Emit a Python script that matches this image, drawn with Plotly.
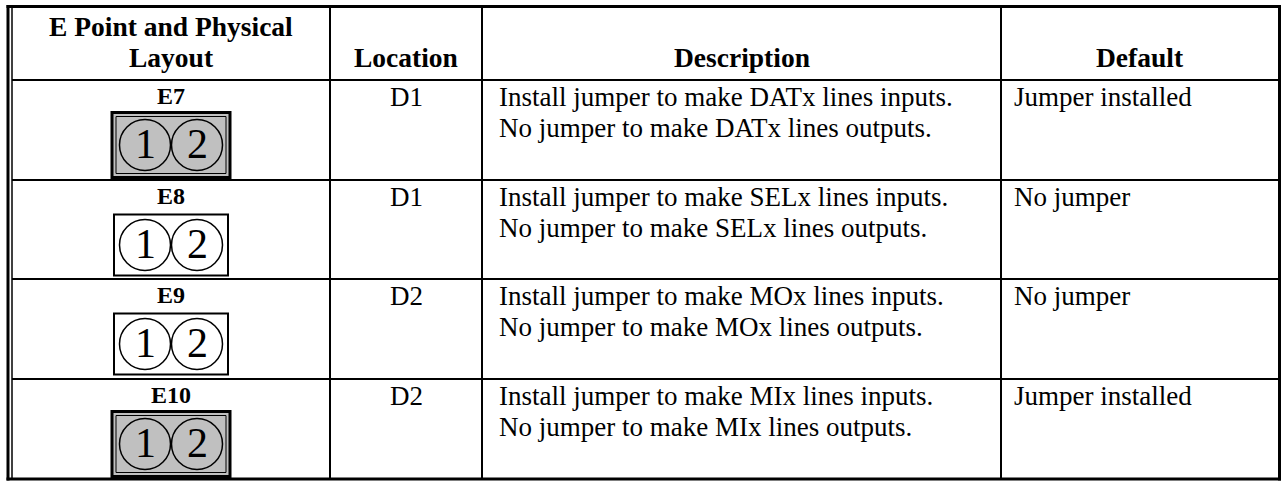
import plotly.graph_objects as go

# ---------------- data ----------------
header_col1 = ["E Point and Physical", "Layout"]
headers = ["Location", "Description", "Default"]
e_points = ["E7", "E8", "E9", "E10"]
locations = ["D1", "D1", "D2", "D2"]
desc_line1 = [
    "Install jumper to make DATx lines inputs.",
    "Install jumper to make SELx lines inputs.",
    "Install jumper to make MOx lines inputs.",
    "Install jumper to make MIx lines inputs.",
]
desc_line2 = [
    "No jumper to make DATx lines outputs.",
    "No jumper to make SELx lines outputs.",
    "No jumper to make MOx lines outputs.",
    "No jumper to make MIx lines outputs.",
]
defaults = ["Jumper installed", "No jumper", "No jumper", "Jumper installed"]
installed = [True, False, False, True]
pins = ["1", "2"]

# ---------------- layout constants ----------------
W, H = 1281, 481
FONT = "Liberation Serif, Times New Roman, serif"
BODY = 27
HEAD = 27.5
ELAB = 24
LEFT_OUT, LEFT_IN = 8, 12
RIGHT = 1279.5
TOP = 6.5
BOTTOM = 479
col_lines = [330, 482, 1001]
row_tops = [80, 180, 279, 379]

col1_c = (LEFT_IN + col_lines[0]) / 2
col2_c = (col_lines[0] + col_lines[1]) / 2
col3_c = (col_lines[1] + col_lines[2]) / 2
col4_c = (col_lines[2] + RIGHT) / 2

shapes = []
annotations = []


def line(x0, y0, x1, y1, w):
    shapes.append(dict(type="line", xref="x", yref="y", x0=x0, y0=y0, x1=x1, y1=y1,
                       line=dict(color="black", width=w), layer="above"))


def text(x, y, s, size=BODY, anchor="center", bold=False):
    if bold:
        s = "<b>" + s + "</b>"
    annotations.append(dict(x=x, y=y, xref="x", yref="y", text=s, showarrow=False,
                            xanchor=anchor, yanchor="middle",
                            font=dict(family=FONT, size=size, color="black")))


# outer border
line(LEFT_OUT - 1.5, TOP, RIGHT + 1.5, TOP, 3)
line(LEFT_OUT, TOP - 1.5, LEFT_OUT, BOTTOM + 1.5, 3)
line(LEFT_IN, TOP, LEFT_IN, BOTTOM, 1.5)
line(RIGHT, TOP - 1.5, RIGHT, BOTTOM + 1.5, 3)
line(LEFT_OUT - 1.5, BOTTOM, RIGHT + 1.5, BOTTOM, 3)

# inner grid
for cx in col_lines:
    line(cx, TOP, cx, BOTTOM, 2)
for ry in row_tops:
    line(LEFT_IN, ry, RIGHT, ry, 2)

# header
text(col1_c, 26, header_col1[0], HEAD, bold=True)
text(col1_c, 57, header_col1[1], HEAD, bold=True)
for cx, h in zip([col2_c, col3_c, col4_c], headers):
    text(cx, 57, h, HEAD, bold=True)

# rows
box_w, box_h = 121, 68
for i, t in enumerate(row_tops):
    text(col1_c, t + 16, e_points[i], ELAB, bold=True)
    text(col2_c, t + 17, locations[i])
    text(col_lines[1] + 15, t + 17, desc_line1[i], anchor="left")
    text(col_lines[1] + 15, t + 48, desc_line2[i], anchor="left")
    text(col_lines[2] + 11, t + 17, defaults[i], anchor="left")

    bx0 = col1_c - box_w / 2
    bx1 = col1_c + box_w / 2
    by0 = t + 31
    by1 = by0 + box_h
    if installed[i]:
        shapes.append(dict(type="rect", xref="x", yref="y", x0=bx0 + 1.5, y0=by0 + 1.5,
                           x1=bx1 - 1.5, y1=by1 - 1.5, fillcolor="#c0c0c0",
                           line=dict(color="black", width=3), layer="above"))
        shapes.append(dict(type="rect", xref="x", yref="y", x0=bx0 + 5.5, y0=by0 + 5.5,
                           x1=bx1 - 5.5, y1=by1 - 5.5,
                           line=dict(color="black", width=1), layer="above"))
    else:
        shapes.append(dict(type="rect", xref="x", yref="y", x0=bx0 + 3.5, y0=by0 + 3.5,
                           x1=bx1 - 3.5, y1=by1 - 3.5, fillcolor="white",
                           line=dict(color="black", width=2), layer="above"))
    r = 25.5
    cy = (by0 + by1) / 2
    for k, p in enumerate(pins):
        cx = bx0 + 9 + r + k * (2 * r + 1)
        shapes.append(dict(type="circle", xref="x", yref="y", x0=cx - r, y0=cy - r,
                           x1=cx + r, y1=cy + r,
                           line=dict(color="black", width=1.5), layer="above"))
        text(cx, cy - 1, p, 42)

fig = go.Figure()
fig.update_layout(
    width=W, height=H,
    margin=dict(l=0, r=0, t=0, b=0),
    paper_bgcolor="white", plot_bgcolor="white",
    xaxis=dict(range=[0, W], visible=False, fixedrange=True),
    yaxis=dict(range=[H, 0], visible=False, fixedrange=True),
    shapes=shapes, annotations=annotations, showlegend=False,
)
fig.write_html(
    "out.html",
    config={"displayModeBar": False},
    post_script="document.body.style.margin='0';document.body.style.overflow='hidden';",
)
